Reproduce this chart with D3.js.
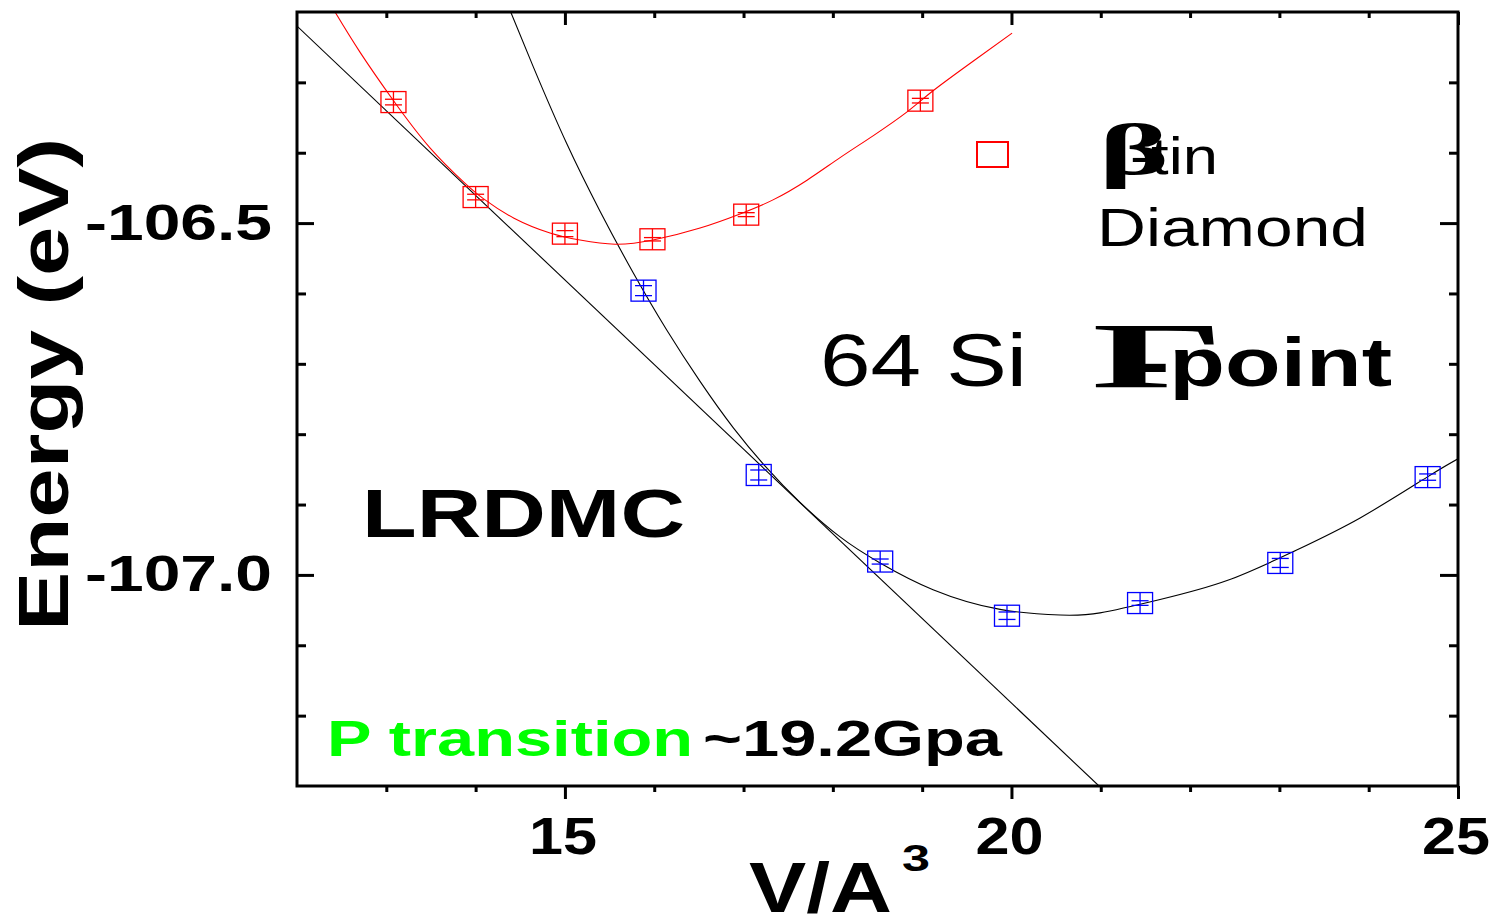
<!DOCTYPE html>
<html>
<head>
<meta charset="utf-8">
<script src="https://cdn.jsdelivr.net/npm/d3@7"></script>
<style>
  html, body { margin: 0; padding: 0; background: #fff; }
  svg { display: block; }
</style>
</head>
<body>
<svg id="chart" width="1496" height="917"></svg>
<script>
// ---- β-tin phase: QMC energies per cell volume ----
const tinV   = [13.08, 14.00, 15.00, 15.98, 17.03, 18.98];
const tinE   = [-106.328, -106.463, -106.515, -106.523, -106.488, -106.326];
const tinErr = [0.0040, 0.0040, 0.0043, 0.0024, 0.0028, 0.0033];

// ---- diamond phase ----
const diaV   = [15.88, 17.17, 18.53, 19.95, 21.44, 23.01, 24.66];
const diaE   = [-106.596, -106.858, -106.981, -107.058, -107.040, -106.983, -106.861];
const diaErr = [0.0071, 0.0071, 0.0036, 0.0053, 0.0033, 0.0064, 0.0045];

// ---- equation-of-state fit curves ----
const tinFitV = [12.426, 12.705, 13.075, 13.489, 13.870, 14.094, 14.430, 14.833, 15.169, 15.561,
                 15.987, 16.513, 16.961, 17.330, 17.711, 18.081, 18.450, 18.831, 19.122, 19.570, 20.007];
const tinFitE = [-106.200, -106.257, -106.325, -106.393, -106.442, -106.466, -106.493, -106.514, -106.524, -106.530,
                 -106.524, -106.507, -106.487, -106.467, -106.439, -106.407, -106.376, -106.342, -106.312, -106.270, -106.230];

const diaFitV = [14.393, 14.646, 15.020, 15.393, 15.766, 16.140, 16.513, 16.886, 17.260, 17.633, 18.081,
                 18.529, 19.122, 19.872, 20.544, 20.992, 21.664, 22.414, 23.153, 23.904, 24.654, 25.000];
const diaFitE = [-106.200, -106.278, -106.387, -106.483, -106.571, -106.652, -106.725, -106.791, -106.848, -106.897, -106.946,
                 -106.983, -107.021, -107.049, -107.057, -107.054, -107.035, -107.008, -106.967, -106.919, -106.861, -106.835];

// ---- common tangent (transition pressure) ----
const tangentV = [12.0, 20.98];
const tangentE = [-106.220, -107.300];

// ---- axes ----
const xDomain = [12, 25];
const yDomain = [-107.3, -106.2];
const xTicks = [15, 20, 25];
const xTickLabels = ["15", "20", "25"];
const xMinorTicks = [13, 14, 16, 17, 18, 19, 21, 22, 23, 24];
const yTicks = [-106.5, -107.0];
const yTickLabels = ["-106.5", "-107.0"];
const yMinorTicks = [-106.3, -106.4, -106.6, -106.7, -106.8, -106.9, -107.1, -107.2];

const svg = d3.select("#chart");
const plotL = 297, plotR = 1458, plotT = 12, plotB = 786;

const x = d3.scaleLinear().domain(xDomain).range([plotL, plotR]);
const y = d3.scaleLinear().domain(yDomain).range([plotB, plotT]);

const SANS = "'Liberation Sans', Arial, Helvetica, sans-serif";
const SERIF = "'Liberation Serif', 'Times New Roman', serif";

svg.append("defs").append("clipPath").attr("id", "plotClip")
  .append("rect").attr("x", plotL).attr("y", plotT)
  .attr("width", plotR - plotL).attr("height", plotB - plotT);

const plot = svg.append("g").attr("clip-path", "url(#plotClip)");

const smooth = d3.line().x(d => x(d[0])).y(d => y(d[1])).curve(d3.curveNatural);
const straight = d3.line().x(d => x(d[0])).y(d => y(d[1]));

plot.append("path")
  .attr("d", straight(d3.zip(tangentV, tangentE)))
  .attr("fill", "none").attr("stroke", "#000").attr("stroke-width", 1.1);

plot.append("path")
  .attr("d", smooth(d3.zip(diaFitV, diaFitE)))
  .attr("fill", "none").attr("stroke", "#000").attr("stroke-width", 1.1);

plot.append("path")
  .attr("d", smooth(d3.zip(tinFitV, tinFitE)))
  .attr("fill", "none").attr("stroke", "#ff0000").attr("stroke-width", 1.1);

// square markers with error bars
function drawMarkers(vs, es, errs, color) {
  const g = plot.append("g").attr("stroke", color).attr("fill", "none").attr("stroke-width", 1.3);
  const mw = 12.5, mh = 10.5, cap = 8.5;
  d3.zip(vs, es, errs).forEach(([v, e, err]) => {
    const cx = x(v), cy = y(e);
    g.append("rect").attr("x", cx - mw).attr("y", cy - mh).attr("width", 2 * mw).attr("height", 2 * mh);
    g.append("line").attr("x1", cx).attr("x2", cx).attr("y1", cy - mh).attr("y2", cy + mh);
    g.append("line").attr("x1", cx - cap).attr("x2", cx + cap).attr("y1", y(e + err)).attr("y2", y(e + err));
    g.append("line").attr("x1", cx - cap).attr("x2", cx + cap).attr("y1", y(e - err)).attr("y2", y(e - err));
  });
}
drawMarkers(tinV, tinE, tinErr, "#ff0000");
drawMarkers(diaV, diaE, diaErr, "#0000ff");

// ---- frame and ticks ----
function tickAxis(axis, transform, size, values) {
  const g = svg.append("g").attr("transform", transform)
    .call(axis.tickValues(values).tickSize(size).tickFormat(""));
  g.select(".domain").remove();
  g.selectAll(".tick line").attr("stroke", "#000").attr("stroke-width", 3);
}
tickAxis(d3.axisLeft(y), `translate(${plotL},0)`, -17, yTicks);
tickAxis(d3.axisLeft(y), `translate(${plotL},0)`, -9, yMinorTicks);
tickAxis(d3.axisRight(y), `translate(${plotR},0)`, -18, yTicks);
tickAxis(d3.axisRight(y), `translate(${plotR},0)`, -9, yMinorTicks);
tickAxis(d3.axisTop(x), `translate(0,${plotT})`, -13, xTicks);
tickAxis(d3.axisTop(x), `translate(0,${plotT})`, -6, xMinorTicks);
tickAxis(d3.axisBottom(x), `translate(0,${plotB})`, 13, xTicks);
tickAxis(d3.axisBottom(x), `translate(0,${plotB})`, 6, xMinorTicks);

svg.append("rect").attr("x", plotL).attr("y", plotT)
  .attr("width", plotR - plotL).attr("height", plotB - plotT)
  .attr("fill", "none").attr("stroke", "#000").attr("stroke-width", 3);

// ---- text helper ----
const txt = (sx, sy, s, size, len, opts = {}) => {
  const t = svg.append("text").attr("x", sx).attr("y", sy).text(s)
    .attr("font-family", opts.family || SANS)
    .attr("font-size", size)
    .attr("font-weight", opts.weight || "bold")
    .attr("fill", opts.fill || "#000");
  if (len) t.attr("textLength", len).attr("lengthAdjust", "spacingAndGlyphs");
  if (opts.transform) t.attr("transform", opts.transform);
  return t;
};

// tick labels
yTicks.forEach((v, i) => txt(85, y(v) + 16.5, yTickLabels[i], 50, 187));
xTicks.forEach((v, i) => txt(x(v) - 36, 854, xTickLabels[i], 52, 68));

// axis titles
txt(0, 0, "Energy (eV)", 70, 493, { transform: "translate(68,631) rotate(-90)" });
txt(749, 912, "V/A", 70, 143);
txt(902, 871, "3", 36, 28);

// ---- annotations ----
txt(362, 537, "LRDMC", 68, 323);
txt(820, 386, "64 Si", 74, 207, { weight: "normal" });
txt(1092, 387, "Γ", 94, 133, { family: SERIF });
txt(1139, 386, "-point", 68, 253);

// legend
svg.append("rect").attr("x", 977).attr("y", 142).attr("width", 31).attr("height", 25)
  .attr("fill", "none").attr("stroke", "#ff0000").attr("stroke-width", 2);
txt(1130, 174, "-tin", 52, 88, { weight: "normal" });
txt(1099, 174, "β", 72, 70, { family: SERIF });
txt(1097, 246, "Diamond", 54, 271, { weight: "normal" });

// transition pressure note
txt(327, 756, "P transition", 50, 366, { fill: "#00ff00" });
txt(703, 756, "~19.2Gpa", 50, 299);
</script>
</body>
</html>
